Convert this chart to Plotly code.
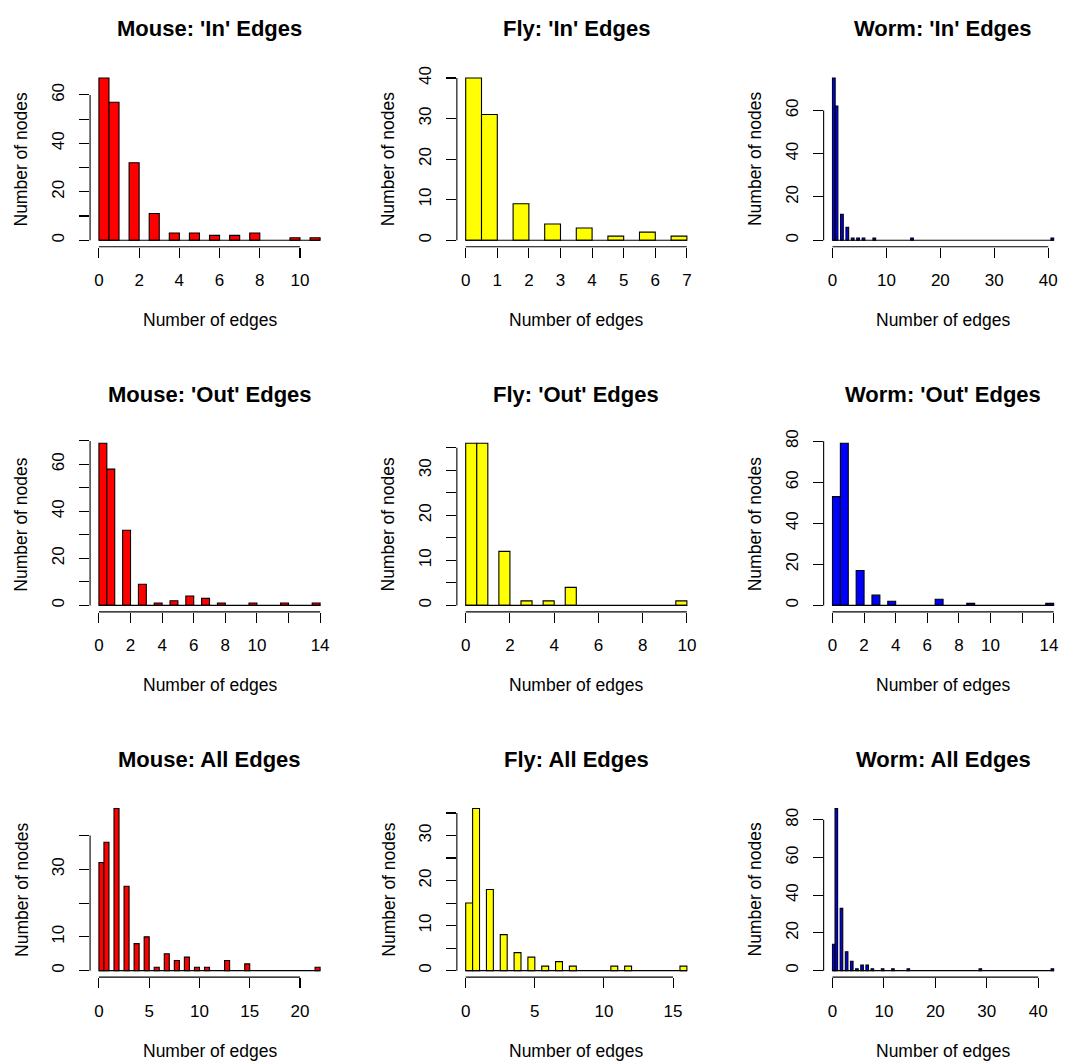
import plotly.graph_objects as go

W, H = 1068, 1061

# ---------------- data ----------------
titles = [
    "Mouse: 'In' Edges", "Fly: 'In' Edges", "Worm: 'In' Edges",
    "Mouse: 'Out' Edges", "Fly: 'Out' Edges", "Worm: 'Out' Edges",
    "Mouse: All Edges", "Fly: All Edges", "Worm: All Edges",
]
colors = ["#FF0000", "#FFFF00", "#0000FF"] * 3

mouse_in_deg = [0, 1, 2, 3, 4, 5, 6, 7, 8, 10, 11]
mouse_in_n = [67, 57, 32, 11, 3, 3, 2, 2, 3, 1, 1]
fly_in_deg = [0, 1, 2, 3, 4, 5, 6, 7]
fly_in_n = [40, 31, 9, 4, 3, 1, 2, 1]
worm_in_deg = [0, 1, 2, 3, 4, 5, 6, 8, 15, 41]
worm_in_n = [75, 62, 12, 6, 1, 1, 1, 1, 1, 1]

mouse_out_deg = [0, 1, 2, 3, 4, 5, 6, 7, 8, 10, 12, 14]
mouse_out_n = [69, 58, 32, 9, 1, 2, 4, 3, 1, 1, 1, 1]
fly_out_deg = [0, 1, 2, 3, 4, 5, 10]
fly_out_n = [36, 36, 12, 1, 1, 4, 1]
worm_out_deg = [0, 1, 2, 3, 4, 7, 9, 14]
worm_out_n = [53, 79, 17, 5, 2, 3, 1, 1]

mouse_all_deg = [0, 1, 2, 3, 4, 5, 6, 7, 8, 9, 10, 11, 13, 15, 22]
mouse_all_n = [32, 38, 48, 25, 8, 10, 1, 5, 3, 4, 1, 1, 3, 2, 1]
fly_all_deg = [0, 1, 2, 3, 4, 5, 6, 7, 8, 11, 12, 16]
fly_all_n = [15, 36, 18, 8, 4, 3, 1, 2, 1, 1, 1, 1]
worm_all_deg = [0, 1, 2, 3, 4, 5, 6, 7, 8, 10, 12, 15, 29, 43]
worm_all_n = [14, 86, 33, 10, 5, 1, 3, 3, 1, 1, 1, 1, 1, 1]

degs = [mouse_in_deg, fly_in_deg, worm_in_deg,
        mouse_out_deg, fly_out_deg, worm_out_deg,
        mouse_all_deg, fly_all_deg, worm_all_deg]
counts = [mouse_in_n, fly_in_n, worm_in_n,
          mouse_out_n, fly_out_n, worm_out_n,
          mouse_all_n, fly_all_n, worm_all_n]

# tick values and labels ("" = label suppressed, as in the original)
NB = "\u00a0"
x_ticks = [
    [0, 2, 4, 6, 8, 10], [0, 1, 2, 3, 4, 5, 6, 7], [0, 10, 20, 30, 40],
    [0, 2, 4, 6, 8, 10, 12, 14], [0, 2, 4, 6, 8, 10], [0, 2, 4, 6, 8, 10, 12, 14],
    [0, 5, 10, 15, 20], [0, 5, 10, 15], [0, 10, 20, 30, 40],
]
x_labels = [
    ["0", "2", "4", "6", "8", "10"], ["0", "1", "2", "3", "4", "5", "6", "7"],
    ["0", "10", "20", "30", "40"],
    ["0", "2", "4", "6", "8", "10", "", "14"], ["0", "2", "4", "6", "8", "10"],
    ["0", "2", "4", "6", "8", "10", "", "14" + NB * 2],
    ["0", "5", "10", "15", "20"], ["0", "5", "10", "15"], ["0", "10", "20", "30", "40"],
]
y_ticks = [
    [0, 10, 20, 30, 40, 50, 60], [0, 10, 20, 30, 40], [0, 20, 40, 60],
    [0, 10, 20, 30, 40, 50, 60, 70], [0, 5, 10, 15, 20, 25, 30, 35], [0, 20, 40, 60, 80],
    [0, 10, 20, 30, 40], [0, 5, 10, 15, 20, 25, 30, 35], [0, 20, 40, 60, 80],
]
y_labels = [
    ["0", "", "20", "", "40", "", "60"], ["0", "10", "20", "30", "40"], ["0", "20", "40", "60"],
    ["0", "", "20", "", "40", "", "60", ""], ["0", "", "10", "", "20", "", "30", ""],
    ["0", "20", "40", "60", "80"],
    ["0", "10", "", "30", ""], ["0", "", "10", "", "20", "", "30", ""],
    ["0", "20", "40", "60", "80"],
]
x_title = "Number of edges"
y_title = "Number of nodes"

# ---------------- layout geometry (pixels) ----------------
col_left = [90.5, 459.0, 827.5]
row_top = [64.0, 432.0, 800.0]
pw, ph = 240.0, 176.5
FONT = "Liberation Sans, Arial, Helvetica, sans-serif"
TICK_SIZE = 17
LAB_SIZE = 17.5
TITLE_SIZE = 22

fig = go.Figure()
annotations = []
shapes = []

for i in range(9):
    r, c = divmod(i, 3)
    ax = "" if i == 0 else str(i + 1)
    xname, yname = "x" + ax, "y" + ax
    left, top = col_left[c], row_top[r]
    xd = [left / W, (left + pw) / W]
    yd = [1 - (top + ph) / H, 1 - top / H]

    d, n = degs[i], counts[i]
    # histogram bins of width 0.5: value 0 -> [0,0.5], value k>0 -> (k-0.5, k]
    centers = [0.25 if k == 0 else k - 0.25 for k in d]
    xmax = max(d)
    ymax = max(n)

    fig.add_trace(go.Bar(
        x=centers, y=n, width=[0.5] * len(n),
        marker=dict(color=colors[i], line=dict(color="black", width=1.1)),
        xaxis=xname, yaxis=yname, showlegend=False,
    ))
    # baseline formed by the empty bins
    fig.add_trace(go.Scatter(
        x=[0, xmax], y=[0, 0], mode="lines",
        line=dict(color="black", width=1.1),
        xaxis=xname, yaxis=yname, showlegend=False,
    ))

    common = dict(showgrid=False, zeroline=False, showline=False,
                  ticks="outside", ticklen=10, tickwidth=1.1, tickcolor="black",
                  tickfont=dict(family=FONT, size=TICK_SIZE, color="black"),
                  ticklabeloverflow="allow", fixedrange=True)
    fig.update_layout(**{
        ("xaxis" + ax): dict(domain=xd, anchor=yname,
                             range=[-0.04 * xmax, 1.04 * xmax],
                             tickmode="array", tickvals=x_ticks[i], ticktext=x_labels[i],
                             tickangle=0, ticklabelstandoff=8, **common),
        ("yaxis" + ax): dict(domain=yd, anchor=xname,
                             range=[-0.04 * ymax, 1.04 * ymax],
                             tickmode="array", tickvals=y_ticks[i], ticktext=y_labels[i],
                             tickangle=-90, ticklabelstandoff=8, **common),
    })

    # axis lines spanning first..last tick (R style)
    shapes.append(dict(type="line", xref=xname, yref=yname + " domain",
                       x0=x_ticks[i][0], x1=x_ticks[i][-1], y0=0, y1=0,
                       line=dict(color="black", width=1.1)))
    shapes.append(dict(type="line", xref=xname + " domain", yref=yname,
                       x0=0, x1=0, y0=y_ticks[i][0], y1=y_ticks[i][-1],
                       line=dict(color="black", width=1.1)))

    cx = (left + pw / 2) / W
    annotations.append(dict(text="<b>" + titles[i] + "</b>", x=cx, y=1 - (top - 43) / H,
                            xref="paper", yref="paper", xanchor="center", yanchor="middle",
                            showarrow=False,
                            font=dict(family=FONT, size=TITLE_SIZE, color="black")))
    annotations.append(dict(text=x_title, x=cx, y=1 - (top + ph + 74) / H,
                            xref="paper", yref="paper", xanchor="center", yanchor="middle",
                            showarrow=False,
                            font=dict(family=FONT, size=LAB_SIZE, color="black")))
    annotations.append(dict(text=y_title, x=(left - 69) / W, y=1 - (top + ph / 2) / H,
                            xref="paper", yref="paper", xanchor="center", yanchor="middle",
                            textangle=-90, showarrow=False,
                            font=dict(family=FONT, size=LAB_SIZE, color="black")))

fig.update_layout(
    width=W, height=H,
    margin=dict(l=0, r=0, t=0, b=0),
    paper_bgcolor="white", plot_bgcolor="white",
    bargap=0, barmode="overlay",
    annotations=annotations, shapes=shapes,
    showlegend=False, hovermode=False,
)

# remove the default page margin so the figure fills the window exactly
fig.write_html(
    "out.html",
    config={"displayModeBar": False, "staticPlot": True},
    post_script="document.body.style.margin='0';document.body.style.overflow='hidden';",
)
